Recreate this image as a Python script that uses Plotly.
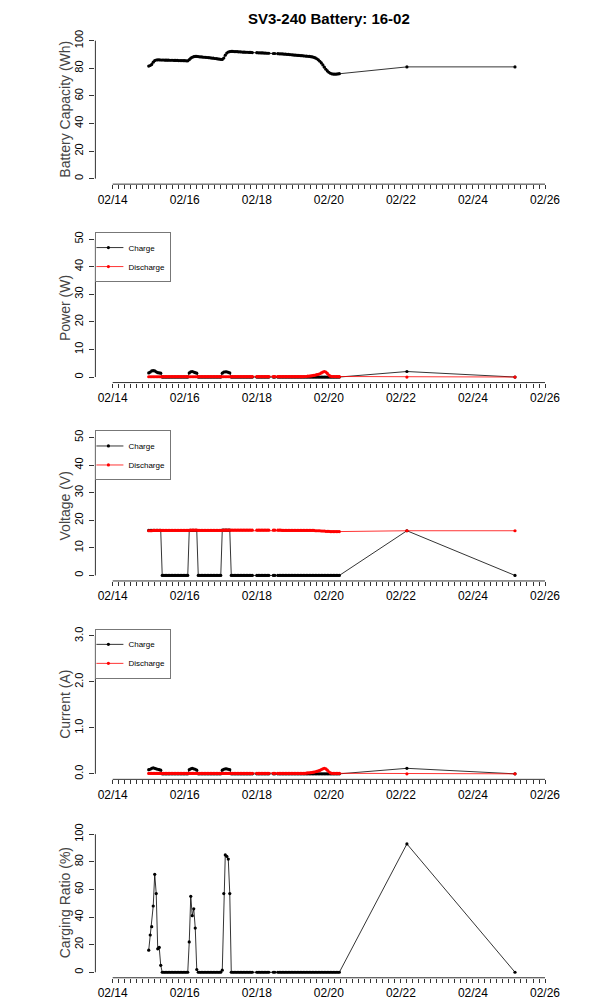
import pandas as pd
import plotly.graph_objects as go

TITLE = "SV3-240 Battery: 16-02"

# hourly samples starting 02/15 00:00, plus two late readings
start_time = "2016-02-15 00:00"
n_hours = 128
missing_hours = [70, 71, 81, 82, 85]
late_times = ["2016-02-22 04:00", "2016-02-25 04:00"]

capacity = [
    81.6, 82.0, 82.8, 84.4, 85.6, 86.0, 86.1, 86.1, 86.0, 86.0, 86.0, 85.9, 85.9, 85.9, 85.8, 85.8, 85.8, 85.7, 85.7, 85.7, 85.6, 85.6, 85.6, 85.5,
    85.5, 85.4, 85.4, 86.2, 87.3, 88.0, 88.4, 88.6, 88.6, 88.5, 88.3, 88.2, 88.1, 88.0, 87.9, 87.8, 87.7, 87.6, 87.4, 87.3, 87.1, 87.0, 86.8, 86.7,
    86.5, 86.4, 87.4, 89.5, 91.0, 91.8, 92.1, 92.2, 92.2, 92.1, 92.1, 92.0, 91.9, 91.9, 91.8, 91.7, 91.7, 91.6, 91.6, 91.5, 91.5, 91.4, 91.4, 91.3,
    91.3, 91.2, 91.2, 91.1, 91.1, 91.0, 91.0, 90.9, 90.9, 90.8, 90.8, 90.7, 90.7, 90.6, 90.6, 90.5, 90.5, 90.4, 90.3, 90.2, 90.1, 90.0, 89.9, 89.8,
    89.7, 89.6, 89.5, 89.4, 89.3, 89.2, 89.1, 89.0, 88.9, 88.8, 88.7, 88.6, 88.4, 88.2, 87.9, 87.5, 86.9, 86.1, 85.1, 83.9, 82.4, 80.8, 79.3, 78.1,
    77.1, 76.4, 76.0, 75.8, 75.7, 75.8, 75.9, 76.1,
]
capacity_late = [81.0, 81.0]

power_charge = [
    1.5, 1.8, 2.2, 2.3, 2.2, 1.9, 1.6, 1.5, 1.4, 0, 0, 0, 0, 0, 0, 0, 0, 0, 0, 0, 0, 0, 0, 0,
    0, 0, 0, 1.5, 1.9, 2.0, 1.8, 1.6, 1.4, 0, 0, 0, 0, 0, 0, 0, 0, 0, 0, 0, 0, 0, 0, 0,
    0, 1.4, 1.8, 1.9, 1.9, 1.7, 1.5, 0, 0, 0, 0, 0, 0, 0, 0, 0, 0, 0, 0, 0, 0, 0, 0, 0,
    0, 0, 0, 0, 0, 0, 0, 0, 0, 0, 0, 0, 0, 0, 0, 0, 0, 0, 0, 0, 0, 0, 0, 0,
    0, 0, 0, 0, 0, 0, 0, 0, 0, 0, 0, 0, 0, 0, 0, 0, 0, 0, 0, 0, 0, 0, 0, 0,
    0, 0, 0, 0, 0, 0, 0, 0,
]
power_charge_late = [2.0, 0.0]

power_discharge = [
    0.1, 0.1, 0.1, 0.1, 0.1, 0.1, 0.1, 0.1, 0.1, 0.15, 0.15, 0.15, 0.15, 0.15, 0.15, 0.15, 0.15, 0.15, 0.15, 0.15, 0.15, 0.15, 0.15, 0.15,
    0.15, 0.15, 0.15, 0.1, 0.1, 0.1, 0.1, 0.1, 0.1, 0.15, 0.15, 0.15, 0.15, 0.15, 0.15, 0.15, 0.15, 0.15, 0.15, 0.15, 0.15, 0.15, 0.15, 0.15,
    0.15, 0.1, 0.1, 0.1, 0.1, 0.1, 0.1, 0.15, 0.15, 0.15, 0.15, 0.15, 0.15, 0.15, 0.15, 0.15, 0.15, 0.15, 0.15, 0.15, 0.15, 0.15, 0.15, 0.15,
    0.15, 0.15, 0.15, 0.15, 0.15, 0.15, 0.15, 0.15, 0.15, 0.15, 0.15, 0.15, 0.15, 0.15, 0.15, 0.15, 0.15, 0.15, 0.15, 0.15, 0.15, 0.15, 0.15, 0.15,
    0.15, 0.15, 0.15, 0.15, 0.15, 0.15, 0.15, 0.15, 0.2, 0.2, 0.3, 0.35, 0.4, 0.5, 0.6, 0.7, 0.85, 1.0, 1.2, 1.5, 1.8, 2.0, 1.8, 1.3,
    0.7, 0.3, 0.2, 0.2, 0.15, 0.2, 0.15, 0.15,
]
power_discharge_late = [0.0, 0.0]

voltage_charge = [
    16.3, 16.3, 16.3, 16.3, 16.3, 16.3, 16.3, 16.3, 16.3, 0, 0, 0, 0, 0, 0, 0, 0, 0, 0, 0, 0, 0, 0, 0,
    0, 0, 0, 16.3, 16.3, 16.3, 16.3, 16.3, 16.3, 0, 0, 0, 0, 0, 0, 0, 0, 0, 0, 0, 0, 0, 0, 0,
    0, 16.4, 16.4, 16.4, 16.4, 16.4, 16.4, 0, 0, 0, 0, 0, 0, 0, 0, 0, 0, 0, 0, 0, 0, 0, 0, 0,
    0, 0, 0, 0, 0, 0, 0, 0, 0, 0, 0, 0, 0, 0, 0, 0, 0, 0, 0, 0, 0, 0, 0, 0,
    0, 0, 0, 0, 0, 0, 0, 0, 0, 0, 0, 0, 0, 0, 0, 0, 0, 0, 0, 0, 0, 0, 0, 0,
    0, 0, 0, 0, 0, 0, 0, 0,
]
voltage_charge_late = [16.2, 0.0]

voltage_discharge = [
    16.2, 16.2, 16.2, 16.3, 16.3, 16.3, 16.3, 16.3, 16.3, 16.3, 16.3, 16.3, 16.3, 16.3, 16.3, 16.3, 16.3, 16.3, 16.3, 16.3, 16.3, 16.3, 16.3, 16.3,
    16.3, 16.3, 16.3, 16.3, 16.4, 16.4, 16.4, 16.4, 16.4, 16.3, 16.3, 16.3, 16.3, 16.3, 16.3, 16.3, 16.3, 16.3, 16.3, 16.3, 16.3, 16.3, 16.3, 16.3,
    16.3, 16.3, 16.4, 16.4, 16.4, 16.4, 16.4, 16.4, 16.4, 16.4, 16.4, 16.4, 16.4, 16.4, 16.4, 16.4, 16.4, 16.4, 16.4, 16.4, 16.4, 16.4, 16.4, 16.4,
    16.4, 16.4, 16.4, 16.4, 16.4, 16.4, 16.4, 16.4, 16.4, 16.4, 16.4, 16.4, 16.4, 16.4, 16.4, 16.4, 16.4, 16.3, 16.3, 16.3, 16.3, 16.3, 16.3, 16.3,
    16.3, 16.3, 16.3, 16.3, 16.3, 16.3, 16.3, 16.3, 16.3, 16.3, 16.3, 16.3, 16.3, 16.3, 16.3, 16.2, 16.2, 16.2, 16.2, 16.1, 16.1, 16.1, 16.0, 16.0,
    16.0, 15.9, 15.9, 15.9, 15.9, 15.9, 15.9, 15.9,
]
voltage_discharge_late = [16.2, 16.2]

current_charge = [
    0.09, 0.1, 0.12, 0.13, 0.12, 0.11, 0.1, 0.09, 0.08, 0, 0, 0, 0, 0, 0, 0, 0, 0, 0, 0, 0, 0, 0, 0,
    0, 0, 0, 0.09, 0.11, 0.12, 0.11, 0.1, 0.08, 0, 0, 0, 0, 0, 0, 0, 0, 0, 0, 0, 0, 0, 0, 0,
    0, 0.08, 0.1, 0.11, 0.11, 0.1, 0.09, 0, 0, 0, 0, 0, 0, 0, 0, 0, 0, 0, 0, 0, 0, 0, 0, 0,
    0, 0, 0, 0, 0, 0, 0, 0, 0, 0, 0, 0, 0, 0, 0, 0, 0, 0, 0, 0, 0, 0, 0, 0,
    0, 0, 0, 0, 0, 0, 0, 0, 0, 0, 0, 0, 0, 0, 0, 0, 0, 0, 0, 0, 0, 0, 0, 0,
    0, 0, 0, 0, 0, 0, 0, 0,
]
current_charge_late = [0.12, 0.0]

current_discharge = [
    0.01, 0.01, 0.01, 0.01, 0.01, 0.01, 0.01, 0.01, 0.01, 0.01, 0.01, 0.01, 0.01, 0.01, 0.01, 0.01, 0.01, 0.01, 0.01, 0.01, 0.01, 0.01, 0.01, 0.01,
    0.01, 0.01, 0.01, 0.01, 0.01, 0.01, 0.01, 0.01, 0.01, 0.01, 0.01, 0.01, 0.01, 0.01, 0.01, 0.01, 0.01, 0.01, 0.01, 0.01, 0.01, 0.01, 0.01, 0.01,
    0.01, 0.01, 0.01, 0.01, 0.01, 0.01, 0.01, 0.01, 0.01, 0.01, 0.01, 0.01, 0.01, 0.01, 0.01, 0.01, 0.01, 0.01, 0.01, 0.01, 0.01, 0.01, 0.01, 0.01,
    0.01, 0.01, 0.01, 0.01, 0.01, 0.01, 0.01, 0.01, 0.01, 0.01, 0.01, 0.01, 0.01, 0.01, 0.01, 0.01, 0.01, 0.01, 0.01, 0.01, 0.01, 0.01, 0.01, 0.01,
    0.01, 0.01, 0.01, 0.01, 0.01, 0.01, 0.01, 0.01, 0.012, 0.015, 0.02, 0.022, 0.025, 0.03, 0.037, 0.045, 0.053, 0.063, 0.075, 0.093, 0.11, 0.122, 0.11, 0.08,
    0.045, 0.02, 0.012, 0.012, 0.01, 0.012, 0.01, 0.01,
]
current_discharge_late = [0.0, 0.0]

charging_ratio = [
    16, 27, 33, 48, 71, 57, 17, 18, 5, 0, 0, 0, 0, 0, 0, 0, 0, 0, 0, 0, 0, 0, 0, 0,
    0, 0, 0, 22, 55, 41, 46, 32, 2, 0, 0, 0, 0, 0, 0, 0, 0, 0, 0, 0, 0, 0, 0, 0,
    0, 1.5, 57, 85, 84, 82, 57, 0, 0, 0, 0, 0, 0, 0, 0, 0, 0, 0, 0, 0, 0, 0, 0, 0,
    0, 0, 0, 0, 0, 0, 0, 0, 0, 0, 0, 0, 0, 0, 0, 0, 0, 0, 0, 0, 0, 0, 0, 0,
    0, 0, 0, 0, 0, 0, 0, 0, 0, 0, 0, 0, 0, 0, 0, 0, 0, 0, 0, 0, 0, 0, 0, 0,
    0, 0, 0, 0, 0, 0, 0, 0,
]
charging_ratio_late = [93, 0]

# axis definitions
x_axis_start = "2016-02-14"
x_axis_end = "2016-02-26"
x_minor_step = "4h"
x_label_every = 12  # every 2 days
y_titles = ["Battery Capacity (Wh)", "Power (W)", "Voltage (V)", "Current (A)", "Carging Ratio (%)"]
y_ticks = [
    [0, 20, 40, 60, 80, 100],
    [0, 10, 20, 30, 40, 50],
    [0, 10, 20, 30, 40, 50],
    [0.0, 1.0, 2.0, 3.0],
    [0, 20, 40, 60, 80, 100],
]
y_tick_fmt = [None, None, None, "{:.1f}", None]
legend_labels = ["Charge", "Discharge"]
colors = {"charge": "black", "discharge": "red"}

# ---------------------------------------------------------------
grid = pd.date_range(start_time, periods=n_hours, freq="h")
keep = [i for i in range(n_hours) if i not in missing_hours]
times = [grid[i] for i in keep] + list(pd.to_datetime(late_times))


def series(vals, late):
    return [vals[i] for i in keep] + list(late)


FONT = "Liberation Sans, Arial, Helvetica, sans-serif"
W, H = 600, 1000
# plot-region geometry (pixels)
left_px, right_px = 95.4, 562.3
panel_h = 200
top_px, bot_px = 30.4, 180.6

fig = go.Figure()

panels = [
    [(capacity, capacity_late, "charge", None)],
    [(power_charge, power_charge_late, "charge", 0), (power_discharge, power_discharge_late, "discharge", 1)],
    [(voltage_charge, voltage_charge_late, "charge", 0), (voltage_discharge, voltage_discharge_late, "discharge", 1)],
    [(current_charge, current_charge_late, "charge", 0), (current_discharge, current_discharge_late, "discharge", 1)],
    [(charging_ratio, charging_ratio_late, "charge", None)],
]
legend_names = [None, "legend", "legend2", "legend3", None]

x0 = pd.Timestamp(x_axis_start)
x1 = pd.Timestamp(x_axis_end)
span = x1 - x0
x_range = [x0 - span * 0.04, x1 + span * 0.04]
x_tickvals = list(pd.date_range(x0, x1, freq=x_minor_step))
x_ticktext = [t.strftime("%m/%d") if i % x_label_every == 0 else "" for i, t in enumerate(x_tickvals)]

shapes = []
annotations = []
layout = {}
for k, traces in enumerate(panels):
    sfx = "" if k == 0 else str(k + 1)
    xa, ya = "x" + sfx, "y" + sfx
    for vals, late, kind, li in traces:
        fig.add_trace(go.Scatter(
            x=times, y=series(vals, late), xaxis=xa, yaxis=ya,
            mode="lines+markers",
            name=legend_labels[li] if li is not None else "",
            showlegend=legend_names[k] is not None,
            legend=legend_names[k] if legend_names[k] else "legend",
            line=dict(color=colors[kind], width=0.8),
            marker=dict(color=colors[kind], size=3.2),
            cliponaxis=False,
        ))
    yt = y_ticks[k]
    ypad = (yt[-1] - yt[0]) * 0.04
    d_top = 1 - (top_px + panel_h * k) / H
    d_bot = 1 - (bot_px + panel_h * k) / H
    layout["xaxis" + sfx] = dict(
        domain=[left_px / W, right_px / W], range=x_range, anchor=ya,
        tickmode="array", tickvals=x_tickvals, ticktext=x_ticktext,
        ticks="outside", ticklen=4, tickwidth=1, tickcolor="#333",
        showline=False, showgrid=False, zeroline=False,
        tickfont=dict(family=FONT, size=12, color="black"),
    )
    fmt = y_tick_fmt[k]
    layout["yaxis" + sfx] = dict(
        domain=[d_bot, d_top], range=[yt[0] - ypad, yt[-1] + ypad], anchor=xa,
        tickmode="array", tickvals=yt,
        ticktext=[fmt.format(v) if fmt else str(v) for v in yt],
        tickangle=-90, ticklabelstandoff=2,
        ticks="outside", ticklen=5, tickwidth=1, tickcolor="#333",
        showline=False, showgrid=False, zeroline=False,
        tickfont=dict(family=FONT, size=11, color="black"),
    )
    shapes.append(dict(type="line", xref=xa, yref=ya + " domain",
                       x0=x0, x1=x1, y0=0, y1=0, line=dict(color="#333", width=1)))
    shapes.append(dict(type="line", xref=xa + " domain", yref=ya,
                       x0=0, x1=0, y0=yt[0], y1=yt[-1], line=dict(color="#333", width=1)))
    annotations.append(dict(
        text=y_titles[k], xref="paper", yref="paper",
        x=65 / W, y=(d_top + d_bot) / 2, textangle=-90, showarrow=False,
        xanchor="center", yanchor="middle",
        font=dict(family=FONT, size=14, color="#444"),
    ))
    if legend_names[k]:
        layout[legend_names[k]] = dict(
            x=left_px / W, y=d_top + 1.5 / H, xanchor="left", yanchor="top",
            bgcolor="white", bordercolor="#777", borderwidth=1,
            font=dict(family=FONT, size=8, color="black"),
            itemwidth=30, tracegroupgap=0, indentation=-8,
        )

annotations.append(dict(
    text="<b>" + TITLE + "</b>", xref="paper", yref="paper",
    x=(left_px + right_px) / 2 / W, y=1 - 14 / H, showarrow=False,
    xanchor="center", yanchor="middle",
    font=dict(family=FONT, size=15, color="black"),
))

fig.update_layout(
    width=W, height=H, margin=dict(l=0, r=0, t=0, b=0),
    paper_bgcolor="white", plot_bgcolor="white",
    shapes=shapes, annotations=annotations, **layout,
)
fig.write_html(
    "out.html",
    config={"displayModeBar": False},
    post_script="document.body.style.margin='0';document.body.style.overflow='hidden';",
)
